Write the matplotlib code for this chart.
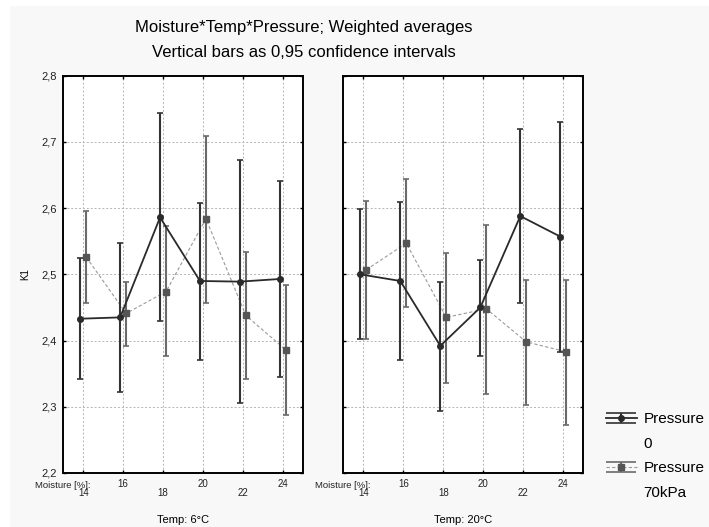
"""
Moisture*Temp*Pressure interaction plot: weighted averages with 0.95 CI bars
"""
import numpy as np
import matplotlib
matplotlib.use('Agg')
import matplotlib.pyplot as plt
from matplotlib.lines import Line2D
from matplotlib.patches import Rectangle
from matplotlib.legend_handler import HandlerErrorbar

plt.rcParams['font.family'] = ['Liberation Sans', 'DejaVu Sans']

moisture = [14, 16, 18, 20, 22, 24]
temps = ['6', '20']
pressures = ['0', '70kPa']

# temp 6 C
p0_t6_mean = [2.433, 2.435, 2.586, 2.490, 2.489, 2.493]
p0_t6_low = [2.342, 2.322, 2.430, 2.371, 2.305, 2.345]
p0_t6_high = [2.524, 2.548, 2.743, 2.607, 2.672, 2.641]
p70_t6_mean = [2.526, 2.441, 2.474, 2.584, 2.438, 2.386]
p70_t6_low = [2.456, 2.392, 2.376, 2.456, 2.342, 2.287]
p70_t6_high = [2.595, 2.488, 2.573, 2.709, 2.534, 2.484]

# temp 20 C
p0_t20_mean = [2.500, 2.490, 2.392, 2.450, 2.588, 2.557]
p0_t20_low = [2.402, 2.370, 2.294, 2.376, 2.457, 2.383]
p0_t20_high = [2.598, 2.609, 2.489, 2.521, 2.720, 2.730]
p70_t20_mean = [2.507, 2.547, 2.435, 2.448, 2.398, 2.383]
p70_t20_low = [2.402, 2.450, 2.336, 2.320, 2.303, 2.273]
p70_t20_high = [2.611, 2.644, 2.532, 2.574, 2.492, 2.492]

panels = [
    [(p0_t6_mean, p0_t6_low, p0_t6_high), (p70_t6_mean, p70_t6_low, p70_t6_high)],
    [(p0_t20_mean, p0_t20_low, p0_t20_high), (p70_t20_mean, p70_t20_low, p70_t20_high)],
]

fig = plt.figure(figsize=(7.09, 5.27), dpi=100)
fig.patch.set_facecolor('white')
fig.patches.append(Rectangle((10 / 709, 0), 1, 1 - 6 / 527, transform=fig.transFigure,
                             facecolor='#f8f8f8', edgecolor='none', zorder=-10))

ax_left = fig.add_axes([62.7 / 709, 54 / 527, 240 / 709, 397.3 / 527])
ax_right = fig.add_axes([342.7 / 709, 54 / 527, 240.6 / 709, 397.3 / 527])
axes = [ax_left, ax_right]

styles = [
    dict(color='#2a2a2a', ecolor='#333333', marker='o', markersize=4, linestyle='-', linewidth=1.3),
    dict(color='#9a9a9a', ecolor='#6a6a6a', marker='s', markersize=5, linestyle=(0, (3, 2)),
         linewidth=0.8, markerfacecolor='#555555', markeredgecolor='#555555'),
]
offsets = [-0.075, 0.075]

x = np.arange(len(moisture))
handles = []
for k, (ax, series) in enumerate(zip(axes, panels)):
    ax.set_facecolor('white')
    for j, (mean, low, high) in enumerate(series):
        mean = np.array(mean)
        yerr = [mean - np.array(low), np.array(high) - mean]
        eb = ax.errorbar(x + offsets[j], mean, yerr=yerr, capsize=2, elinewidth=1.5,
                         capthick=1.2, zorder=3 - j, **styles[j])
        if k == 0:
            handles.append(eb)

    ax.set_xlim(-0.515, 5.5)
    ax.set_ylim(2.2, 2.8)
    ax.set_yticks(np.arange(2.2, 2.81, 0.1))
    ax.set_yticklabels([f'{v:.1f}'.replace('.', ',') for v in np.arange(2.2, 2.81, 0.1)])
    ax.set_xticks(x)
    ax.set_xticklabels([('\n' if i % 2 == 0 else '') + str(m) for i, m in enumerate(moisture)])
    for lbl in ax.get_xticklabels():
        lbl.set_linespacing(0.95)
    ax.grid(True, linestyle=(0, (2, 2)), color='#b5b5b5', linewidth=0.7)
    ax.set_axisbelow(True)
    ax.tick_params(direction='in', length=2.5, width=1, top=True, right=True,
                   labelsize=7, colors='black', labelcolor='#222222', pad=4)
    ax.tick_params(axis='y', labelsize=8)
    for sp in ax.spines.values():
        sp.set_linewidth(1.4)
    ax.annotate('Moisture [%]:', xy=(0.17, 0), xycoords=('data', 'axes fraction'),
                xytext=(0, -9), textcoords='offset points', ha='right', va='center',
                fontsize=6.8, color='#222222')
    ax.set_xlabel(f'Temp: {temps[k]}°C', fontsize=8, labelpad=12)

ax_right.tick_params(axis='y', labelleft=False)
ax_left.set_ylabel('K1', fontsize=7, labelpad=8)

fig.text(304 / 709, 1 - 40 / 527,
         'Moisture*Temp*Pressure; Weighted averages\nVertical bars as 0,95 confidence intervals',
         ha='center', va='center', fontsize=12, linespacing=1.8)


class WideCaps(HandlerErrorbar):
    def create_artists(self, *args, **kwargs):
        arts = super().create_artists(*args, **kwargs)
        for a in arts:
            if isinstance(a, Line2D) and a.get_marker() == '_':
                a.set_markersize(22)
        return arts


blank = Line2D([], [], linestyle='none')
leg_handles = [handles[0], blank, handles[1], blank]
leg_labels = ['Pressure', pressures[0], 'Pressure', pressures[1]]
fig.legend(leg_handles, leg_labels, loc='upper left', bbox_to_anchor=(606 / 709, 1 - 412 / 527),
           frameon=False, borderpad=0, borderaxespad=0, fontsize=11, handlelength=2.0,
           handletextpad=0.45, labelspacing=0.7,
           handler_map={type(handles[0]): WideCaps(yerr_size=0.32)})

fig.savefig('out.png', dpi=100, facecolor=fig.get_facecolor())
